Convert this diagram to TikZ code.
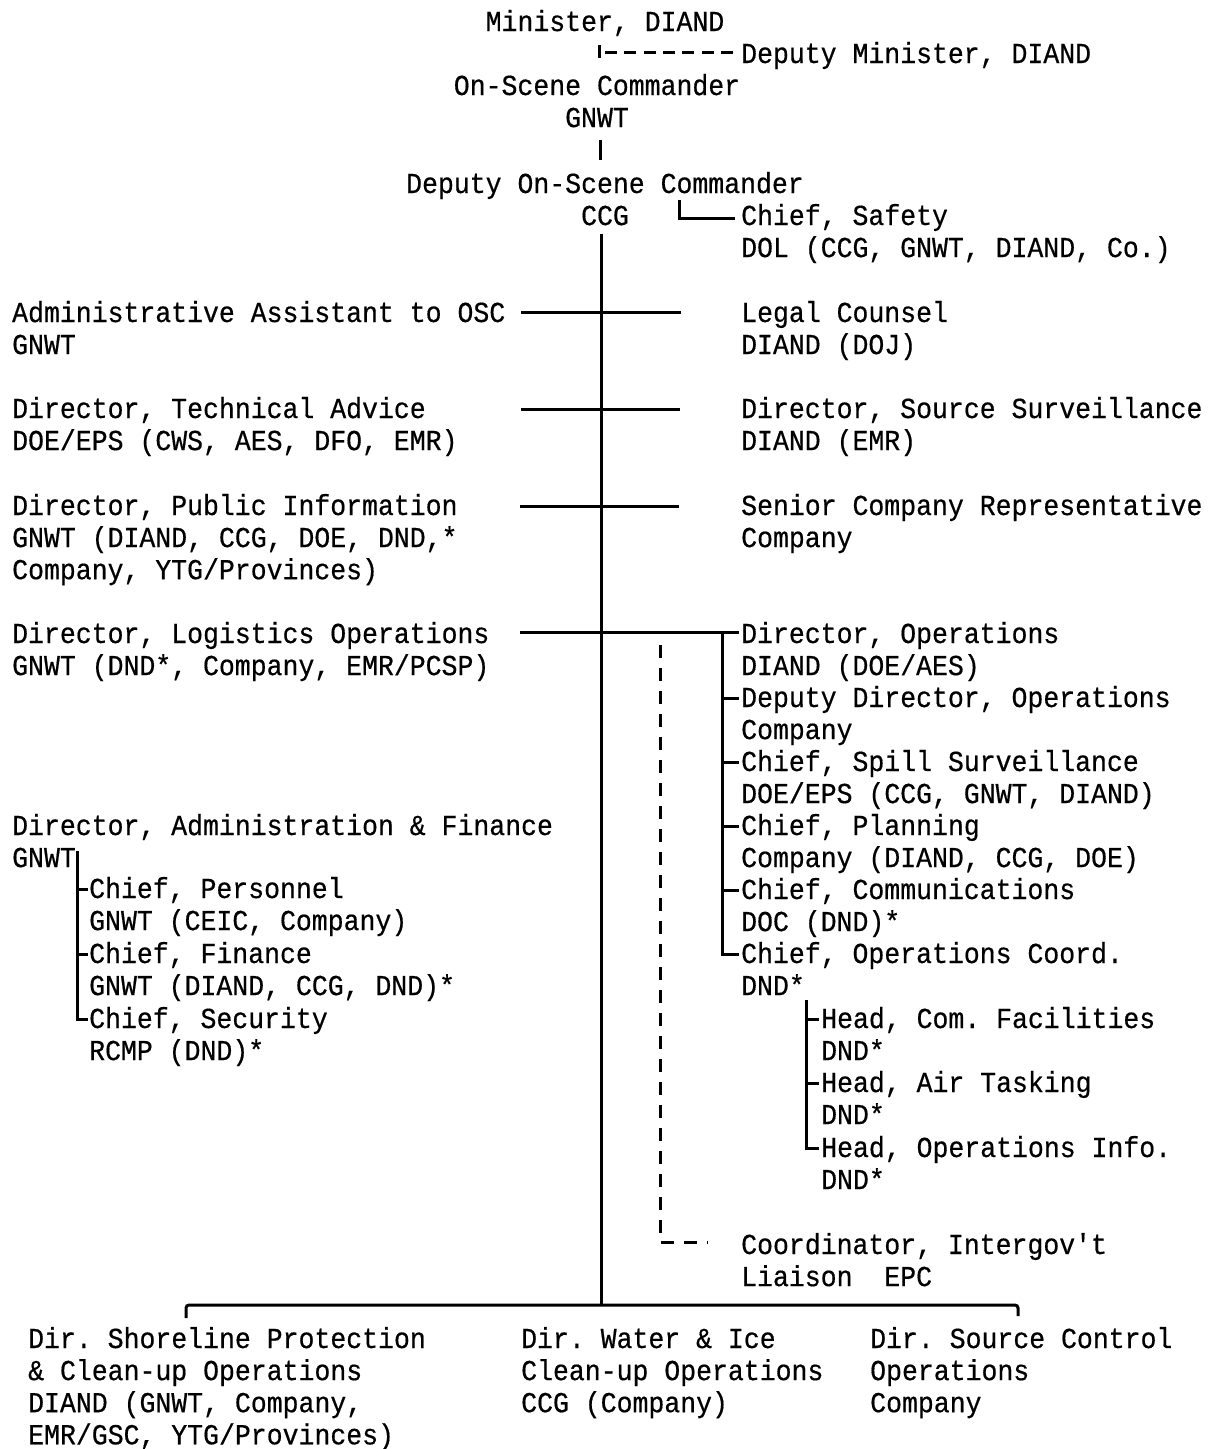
\documentclass[tikz,border=0pt]{standalone}
\usepackage{fontspec}
\newfontfamily\monoface[FakeStretch=0.914,FakeBold=0.5]{Liberation Mono}
\newcommand\labfont{\monoface\fontsize{29}{32.1}\selectfont\frenchspacing}
\newcommand\tl[1]{\begin{tabular}[t]{@{}l@{}}#1\end{tabular}}
\newcommand\tc[1]{\begin{tabular}[t]{@{}c@{}}#1\end{tabular}}
\begin{document}
\begin{tikzpicture}[x=1pt,y=-1pt,
  lbl/.style={anchor=base west, inner sep=0pt, font=\labfont},
  clbl/.style={anchor=base, inner sep=0pt, font=\labfont},
  conn/.style={line width=3pt},
  dconn/.style={line width=3pt, dash pattern=on 13pt off 10pt},
]
\useasboundingbox[fill=white] (0,0) rectangle (1216,1449);

% top chain
\node[clbl] (min) at (605,31) {Minister, DIAND};
\node[lbl] (depmin) at (741,63) {Deputy Minister, DIAND};
\node[clbl] (osc) at (597,95) {\tc{On-Scene Commander\\GNWT}};
\node[clbl] (dosc) at (605,193) {\tc{Deputy On-Scene Commander\\CCG}};
\node[lbl] (safety) at (741,225) {\tl{Chief, Safety\\DOL (CCG, GNWT, DIAND, Co.)}};

% staff rows
\node[lbl] (admin) at (12,322) {\tl{Administrative Assistant to OSC\\GNWT}};
\node[lbl] (legal) at (741,322) {\tl{Legal Counsel\\DIAND (DOJ)}};
\node[lbl] (tech) at (12,418) {\tl{Director, Technical Advice\\DOE/EPS (CWS, AES, DFO, EMR)}};
\node[lbl] (srcsurv) at (741,418) {\tl{Director, Source Surveillance\\DIAND (EMR)}};
\node[lbl] (pubinfo) at (12,515) {\tl{Director, Public Information\\GNWT (DIAND, CCG, DOE, DND,*\\Company, YTG/Provinces)}};
\node[lbl] (senior) at (741,515) {\tl{Senior Company Representative\\Company}};
\node[lbl] (logis) at (12,643) {\tl{Director, Logistics Operations\\GNWT (DND*, Company, EMR/PCSP)}};

% operations branch
\node[lbl] (dirops) at (741,643) {\tl{Director, Operations\\DIAND (DOE/AES)}};
\node[lbl] (depdirops) at (741,707) {\tl{Deputy Director, Operations\\Company}};
\node[lbl] (spill) at (741,771) {\tl{Chief, Spill Surveillance\\DOE/EPS (CCG, GNWT, DIAND)}};
\node[lbl] (plan) at (741,835) {\tl{Chief, Planning\\Company (DIAND, CCG, DOE)}};
\node[lbl] (comm) at (741,899) {\tl{Chief, Communications\\DOC (DND)*}};
\node[lbl] (opscoord) at (741,963) {\tl{Chief, Operations Coord.\\DND*}};
\node[lbl] (comfac) at (821,1028) {\tl{Head, Com. Facilities\\DND*}};
\node[lbl] (air) at (821,1092) {\tl{Head, Air Tasking\\DND*}};
\node[lbl] (opsinfo) at (821,1157) {\tl{Head, Operations Info.\\DND*}};
\node[lbl] (coord) at (741,1254) {\tl{Coordinator, Intergov't\\Liaison\ \ EPC}};

% administration branch
\node[lbl] (adfin) at (12,835) {\tl{Director, Administration \& Finance\\GNWT}};
\node[lbl] (pers) at (89,898) {\tl{Chief, Personnel\\GNWT (CEIC, Company)}};
\node[lbl] (fin) at (89,963) {\tl{Chief, Finance\\GNWT (DIAND, CCG, DND)*}};
\node[lbl] (sec) at (89,1028) {\tl{Chief, Security\\RCMP (DND)*}};

% bottom directors
\node[lbl] (shore) at (28,1348) {\tl{Dir. Shoreline Protection\\\& Clean-up Operations\\DIAND (GNWT, Company,\\EMR/GSC, YTG/Provinces)}};
\node[lbl] (water) at (521,1348) {\tl{Dir. Water \& Ice\\Clean-up Operations\\CCG (Company)}};
\node[lbl] (source) at (870,1348) {\tl{Dir. Source Control\\Operations\\Company}};

% attachment points just left of each entry
\foreach \n in {depdirops,spill,plan,comm,opscoord,comfac,air,opsinfo}
  \coordinate (\n-t) at ([xshift=-2pt,yshift=9pt]\n.base west);
\foreach \n in {pers,fin,sec}
  \coordinate (\n-t) at ([xshift=-1pt,yshift=9pt]\n.base west);

% connectors: top
\coordinate (mtick) at (599,52);
\draw[conn] (599,45) -- (599,58);
\draw[line width=3pt, dash pattern=on 12pt off 7.3pt] (605,52) -- ([xshift=-4pt,yshift=11pt]depmin.base west);
\draw[conn] (600,140) -- (600,160);
\draw[conn] (679,200) |- ([xshift=-6pt,yshift=7pt]safety.base west);

% spine
\coordinate (sTop) at (601,234);
\coordinate (sBot) at (601,1306);
\draw[conn] (sTop) -- (sBot);

% cross bars
\draw[conn] (521,312) -- (681,312);
\draw[conn] (521,409) -- (680,409);
\draw[conn] (520,506) -- (679,506);
\draw[conn] (520,632) -- ([xshift=-2pt,yshift=11pt]dirops.base west);

% operations bracket
\coordinate (obx) at (722,632);
\draw[conn] (obx) |- (opscoord-t);
\foreach \n in {depdirops,spill,plan,comm}
  \draw[conn] (obx |- \n-t) -- (\n-t);

% heads bracket
\coordinate (hbx) at (806,1000);
\draw[conn] (hbx) |- (opsinfo-t);
\foreach \n in {comfac,air}
  \draw[conn] (hbx |- \n-t) -- (\n-t);

% admin bracket
\coordinate (abx) at (77,851);
\draw[conn] (abx) |- (sec-t);
\foreach \n in {pers,fin}
  \draw[conn] (abx |- \n-t) -- (\n-t);

% liaison dashed
\draw[dconn] (660,645) |- ([xshift=-33pt,yshift=12pt]coord.base west);

% bottom bar
\draw[conn, rounded corners=3pt] (186,1318) -- (186,1305) -- (1018,1305) -- (1018,1316);
\end{tikzpicture}
\end{document}
